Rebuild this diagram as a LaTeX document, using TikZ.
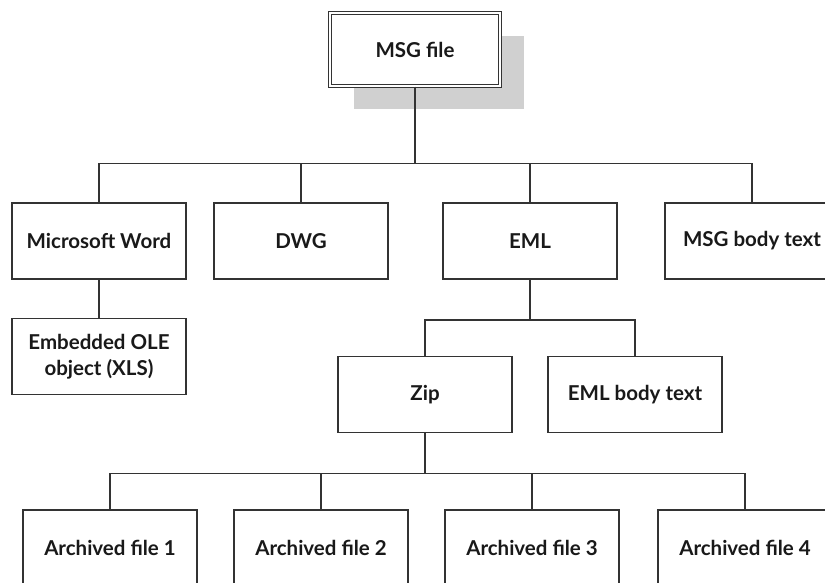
\documentclass[tikz,border=0pt]{standalone}
\usepackage{fontspec}
\setmainfont{Lato}
\usetikzlibrary{shadows}
\definecolor{linegray}{HTML}{333333}
\definecolor{shadowgray}{HTML}{D0D0D0}
\tikzset{
    item/.style={draw=linegray, line width=1.5pt, fill=white, text=black!90,
        minimum width=174pt, minimum height=76pt, inner sep=2pt, align=center,
        font=\bfseries\fontsize{20.5}{26}\selectfont},
    rootbox/.style={item, double, double distance=2pt, line width=1.1pt,
        minimum width=170pt, minimum height=73pt,
        general shadow={fill=shadowgray, shadow xshift=24pt, shadow yshift=-23pt}},
    link/.style={draw=linegray, line width=1.5pt},
}
\begin{document}
\begin{tikzpicture}[x=1pt,y=-1pt]
    \useasboundingbox (0,0) rectangle (825,582);
    \clip (0,0) rectangle (825,582);
    % root
    \node[rootbox] (msg) at (415,49.5) {MSG file};
    % first level
    \node[item] (word) at (99,241) {Microsoft Word};
    \node[item] (dwg) at (301,241) {DWG};
    \node[item] (eml) at (530,241) {EML};
    \node[item] (msgbody) at (752,241) {MSG body text};
    % second level
    \node[item] (ole) at (99,356.5) {Embedded OLE\\object (XLS)};
    \node[item] (zip) at (425,394.5) {Zip};
    \node[item] (emlbody) at (635,394.5) {EML body text};
    % archive contents
    \foreach \i/\x in {1/110,2/321,3/532,4/745}
        \node[item] (arch\i) at (\x,548) {Archived file \i};
    % connectors
    \draw[link] (msg.south) -- ++(0,77) coordinate (bus1);
    \draw[link] (word.north) |- (bus1) -| (msgbody.north);
    \draw[link] (dwg.north) -- (dwg.north |- bus1);
    \draw[link] (eml.north) -- (eml.north |- bus1);
    \draw[link] (word) -- (ole);
    \draw[link] (eml.south) -- ++(0,40) coordinate (bus2);
    \draw[link] (zip.north) |- (bus2) -| (emlbody.north);
    \draw[link] (zip.south) -- ++(0,40) coordinate (bus3);
    \draw[link] (arch1.north) |- (bus3) -| (arch4.north);
    \draw[link] (arch2.north) -- (arch2.north |- bus3);
    \draw[link] (arch3.north) -- (arch3.north |- bus3);
\end{tikzpicture}
\end{document}
